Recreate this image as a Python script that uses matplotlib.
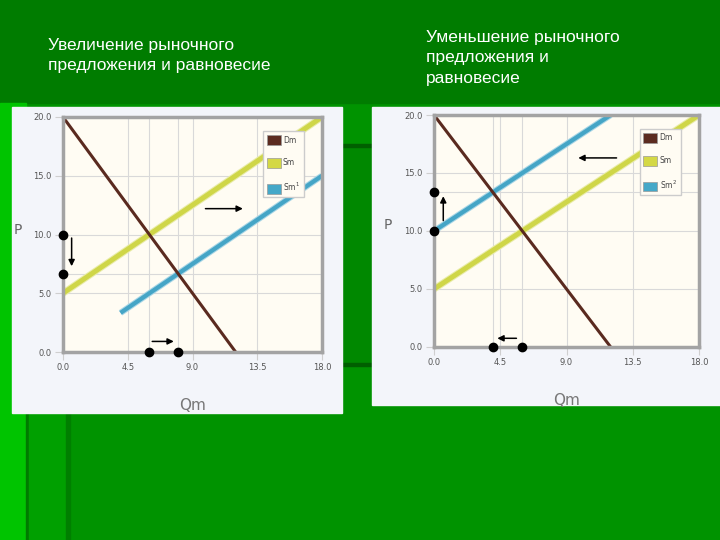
import matplotlib.pyplot as plt
import matplotlib.patheffects as pe
from matplotlib.patches import Rectangle, Patch

# slide titles
title_left = "Увеличение рыночного\nпредложения и равновесие"
title_right = "Уменьшение рыночного\nпредложения и\nравновесие"

# demand and supply lines (Q, P)
demand_q = [0, 12]
demand_p = [20, 0]
supply_q = [0, 18]
supply_p = [5, 20]
supply1_q = [4, 18]
supply1_p = [3.33, 15]
supply2_q = [0, 12]
supply2_p = [10, 20]

# equilibrium markers
left_dots_q = [0, 0, 6, 8]
left_dots_p = [10, 6.67, 0, 0]
right_dots_q = [0, 0, 4, 6]
right_dots_p = [10, 13.33, 0, 0]

xticks = [0.0, 4.5, 9.0, 13.5, 18.0]
yticks = [0.0, 5.0, 10.0, 15.0, 20.0]

W, H = 720, 540
fig = plt.figure(figsize=(7.2, 5.4), dpi=100)
fig.patch.set_facecolor('#009300')


def px_rect(x, y, w, h, color):
    # rectangle given in pixels from the top-left corner
    fig.add_artist(Rectangle((x / W, 1 - (y + h) / H), w / W, h / H,
                             transform=fig.transFigure, color=color, zorder=0))


# background decoration of the slide
px_rect(0, 0, 720, 103, '#007c00')
px_rect(0, 103, 26, 437, '#00c400')
px_rect(26, 413, 3, 127, '#007a00')
px_rect(29, 413, 38, 127, '#00a000')
px_rect(66, 413, 4, 127, '#007f00')
px_rect(342, 146, 30, 218, '#008800')
px_rect(342, 144, 30, 3, '#005f00')
px_rect(342, 363, 30, 3, '#005f00')

# white panels behind charts
px_rect(12, 107, 330, 306, '#f3f5fa')
px_rect(372, 107, 348, 298, '#f3f5fa')

fig.text(48 / W, 1 - 38 / H, title_left, color='white', fontsize=12.5,
         family='Liberation Sans', va='top', linespacing=1.45)
fig.text(426 / W, 1 - 30 / H, title_right, color='white', fontsize=12.5,
         family='Liberation Sans', va='top', linespacing=1.45)

ax1 = fig.add_axes([63 / W, 1 - 352 / H, 259 / W, 235 / H])
ax2 = fig.add_axes([434 / W, 1 - 347 / H, 265 / W, 232 / H])


def style_axes(ax):
    ax.set_facecolor('#fffcf3')
    ax.set_xlim(0, 18)
    ax.set_ylim(0, 20)
    ax.set_xticks(xticks)
    ax.set_yticks(yticks)
    ax.set_xticklabels([f"{t:.1f}" for t in xticks])
    ax.set_yticklabels([f"{t:.1f}" for t in yticks])
    ax.grid(True, color='#d9d9d9', linewidth=0.8)
    ax.set_axisbelow(True)
    for s in ax.spines.values():
        s.set_color('#a3a3a3')
        s.set_linewidth(2.5)
    ax.tick_params(length=6, width=0.8, color='#cfcfcf', labelsize=6,
                   labelcolor='#555555', pad=2)
    ax.set_ylabel('P', rotation=0, fontsize=10, color='#666666')
    ax.set_xlabel('Qm', fontsize=11, color='#777777')


def draw_supply(ax, q, p, color, glow, lw):
    ax.plot(q, p, color=color, linewidth=lw, solid_capstyle='butt',
            path_effects=[pe.Stroke(linewidth=lw + 1.5, foreground=glow), pe.Normal()])


def draw_legend(ax, second_label):
    handles = [Patch(facecolor='#5b2b20', edgecolor='#999999', linewidth=0.5),
               Patch(facecolor='#d4d845', edgecolor='#999999', linewidth=0.5),
               Patch(facecolor='#45a8c8', edgecolor='#999999', linewidth=0.5)]
    leg = ax.legend(handles, ['Dm', 'Sm', second_label], loc='upper right',
                    bbox_to_anchor=(0.945, 0.955), fontsize=5.5, handlelength=1.8,
                    handleheight=1.6, labelspacing=1.7, handletextpad=0.3,
                    borderpad=0.5, fancybox=False, framealpha=1,
                    edgecolor='#cccccc', facecolor='#fffcf3')
    for t in leg.get_texts():
        t.set_color('#444444')


def arrow(ax, start, end):
    ax.annotate('', xy=end, xytext=start,
                arrowprops=dict(arrowstyle='-|>', color='black', lw=1.1,
                                mutation_scale=9, shrinkA=0, shrinkB=0))


# left chart: supply increases
style_axes(ax1)
ax1.axvline(6, color='#d9d9d9', linewidth=0.8, zorder=1)
ax1.axvline(8, color='#d9d9d9', linewidth=0.8, zorder=1)
ax1.axhline(6.67, color='#d9d9d9', linewidth=0.8, zorder=1)
draw_supply(ax1, supply_q, supply_p, '#cfd648', '#e9ecaa', 3.5)
draw_supply(ax1, supply1_q, supply1_p, '#45a5c6', '#a9d6e6', 3.0)
ax1.plot(demand_q, demand_p, color='#5a2a1f', linewidth=2.2)
ax1.plot(left_dots_q, left_dots_p, 'o', color='black', markersize=6,
         clip_on=False, zorder=5)
arrow(ax1, (9.9, 12.2), (12.5, 12.2))
arrow(ax1, (0.6, 9.7), (0.6, 7.3))
arrow(ax1, (6.2, 0.9), (7.7, 0.9))
draw_legend(ax1, 'Sm$^1$')
ax1.yaxis.set_label_coords(-0.174, 0.49)
ax1.xaxis.set_label_coords(0.502, -0.196)

# right chart: supply decreases
style_axes(ax2)
ax2.axvline(4, color='#d9d9d9', linewidth=0.8, zorder=1)
ax2.axvline(6, color='#d9d9d9', linewidth=0.8, zorder=1)
ax2.axhline(13.33, color='#d9d9d9', linewidth=0.8, zorder=1)
draw_supply(ax2, supply_q, supply_p, '#cfd648', '#e9ecaa', 3.5)
draw_supply(ax2, supply2_q, supply2_p, '#45a5c6', '#a9d6e6', 3.0)
ax2.plot(demand_q, demand_p, color='#5a2a1f', linewidth=2.2)
ax2.plot(right_dots_q, right_dots_p, 'o', color='black', markersize=6,
         clip_on=False, zorder=5)
arrow(ax2, (12.4, 16.3), (9.8, 16.3))
arrow(ax2, (0.63, 10.9), (0.63, 13.0))
arrow(ax2, (5.6, 0.75), (4.3, 0.75))
draw_legend(ax2, 'Sm$^2$')
ax2.yaxis.set_label_coords(-0.174, 0.496)
ax2.xaxis.set_label_coords(0.502, -0.198)

fig.savefig('out.png', dpi=100, facecolor=fig.get_facecolor())
